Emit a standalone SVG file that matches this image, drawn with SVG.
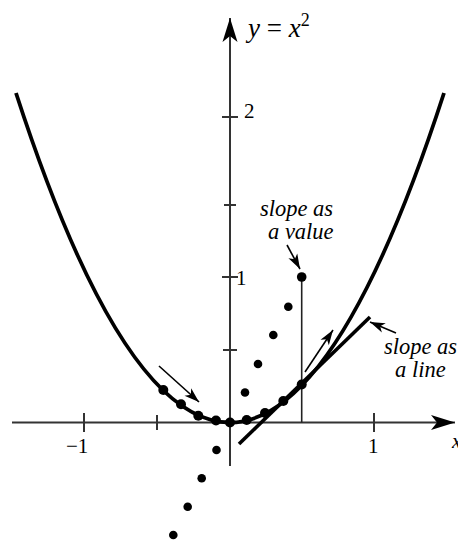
<svg xmlns="http://www.w3.org/2000/svg" width="458" height="541" viewBox="0 0 458 541">
<style>
.ax{stroke:#333;stroke-width:2;fill:none}
.tk{stroke:#333;stroke-width:2}
.curve{stroke:#000;stroke-width:3.8;fill:none}
.lbl{font-family:"Liberation Serif","Times New Roman",serif;font-size:21px;fill:#000}
.it{font-style:italic}
.thin{stroke:#000;stroke-width:1.6;fill:none}
.cd{fill:#000}
</style>
<defs>
<marker id="big" markerUnits="userSpaceOnUse" viewBox="-25 -8 26 16" refX="0" refY="0" markerWidth="26" markerHeight="16" orient="auto"><path d="M0,0 L-24,-7.5 L-18,0 L-24,7.5 Z" fill="#000"/></marker>
<marker id="sm" markerUnits="userSpaceOnUse" viewBox="-16 -6 17 12" refX="0" refY="0" markerWidth="17" markerHeight="12" orient="auto"><path d="M0,0 L-15,-5 L-11,0 L-15,5 Z" fill="#000"/></marker>
</defs>
<g id="axes">
<line class="ax" x1="12" y1="422.5" x2="455" y2="422.5" marker-end="url(#big)"/>
<line class="ax" x1="230" y1="466" x2="230" y2="18" marker-end="url(#big)"/>
<line class="tk" x1="84" y1="413" x2="84" y2="432"/>
<line class="tk" x1="157" y1="415" x2="157" y2="430"/>
<line class="tk" x1="374" y1="413" x2="374" y2="432"/>
<line class="tk" x1="222" y1="117" x2="238" y2="117"/>
<line class="tk" x1="222" y1="277" x2="238" y2="277"/>
<line class="tk" x1="223" y1="350" x2="237" y2="350"/>
<line class="tk" x1="224" y1="205" x2="236" y2="205"/>
</g>
<g id="axis-labels">
<text class="lbl" x="66" y="453">−1</text>
<text class="lbl" x="368" y="453">1</text>
<text class="lbl it" x="452" y="448">x</text>
<text class="lbl" x="244" y="118">2</text>
<text class="lbl" x="236" y="285">1</text>
<text class="lbl" x="248" y="37" style="font-size:27px"><tspan class="it">y</tspan> = <tspan class="it">x</tspan><tspan dy="-11" style="font-size:18px">2</tspan></text>
</g>
<g id="parabola">
<path class="curve" d="M16,93 Q230,752 444,93"/>
</g>
<g id="tangent-line">
<line x1="239" y1="444" x2="370" y2="317" stroke="#000" stroke-width="3.6"/>
</g>
<g id="value-bar">
<line x1="301.7" y1="277" x2="301.7" y2="422.5" stroke="#222" stroke-width="1.6"/>
<circle cx="301.7" cy="277" r="4.8" class="cd"/>
</g>
<g id="curve-dots">
<circle cx="163.3" cy="390" r="5" class="cd"/>
<circle cx="181" cy="404.3" r="5" class="cd"/>
<circle cx="198.3" cy="415.7" r="5" class="cd"/>
<circle cx="216" cy="420.5" r="5" class="cd"/>
<circle cx="230" cy="422.5" r="5" class="cd"/>
<circle cx="246.7" cy="420" r="5" class="cd"/>
<circle cx="265" cy="413" r="5" class="cd"/>
<circle cx="283.3" cy="401" r="5" class="cd"/>
<circle cx="301.7" cy="384.5" r="5" class="cd"/>
</g>
<g id="slope-dots">
<circle cx="245" cy="392.5" r="4.3" class="cd"/>
<circle cx="258" cy="364" r="4.3" class="cd"/>
<circle cx="273.3" cy="335" r="4.3" class="cd"/>
<circle cx="288.3" cy="306.7" r="4.3" class="cd"/>
<circle cx="216.5" cy="450" r="4.3" class="cd"/>
<circle cx="201.7" cy="478.3" r="4.3" class="cd"/>
<circle cx="187.7" cy="506.7" r="4.3" class="cd"/>
<circle cx="173.3" cy="535" r="4.3" class="cd"/>
</g>
<g id="label-value">
<text class="lbl it" x="260" y="216" style="font-size:22.5px">slope as</text>
<text class="lbl it" x="268" y="239" style="font-size:22.5px">a value</text>
</g>
<g id="label-line">
<text class="lbl it" x="384" y="354" style="font-size:22.5px">slope as</text>
<text class="lbl it" x="395" y="377" style="font-size:22.5px">a line</text>
</g>
<g id="connectors">
<line class="thin" x1="287" y1="245" x2="300" y2="269" marker-end="url(#sm)"/>
<line class="thin" x1="396" y1="333" x2="370" y2="322" marker-end="url(#sm)"/>
<line class="thin" x1="159" y1="366" x2="199" y2="402" marker-end="url(#sm)"/>
<line class="thin" x1="305" y1="372" x2="333" y2="330" marker-end="url(#sm)"/>
</g>
</svg>
